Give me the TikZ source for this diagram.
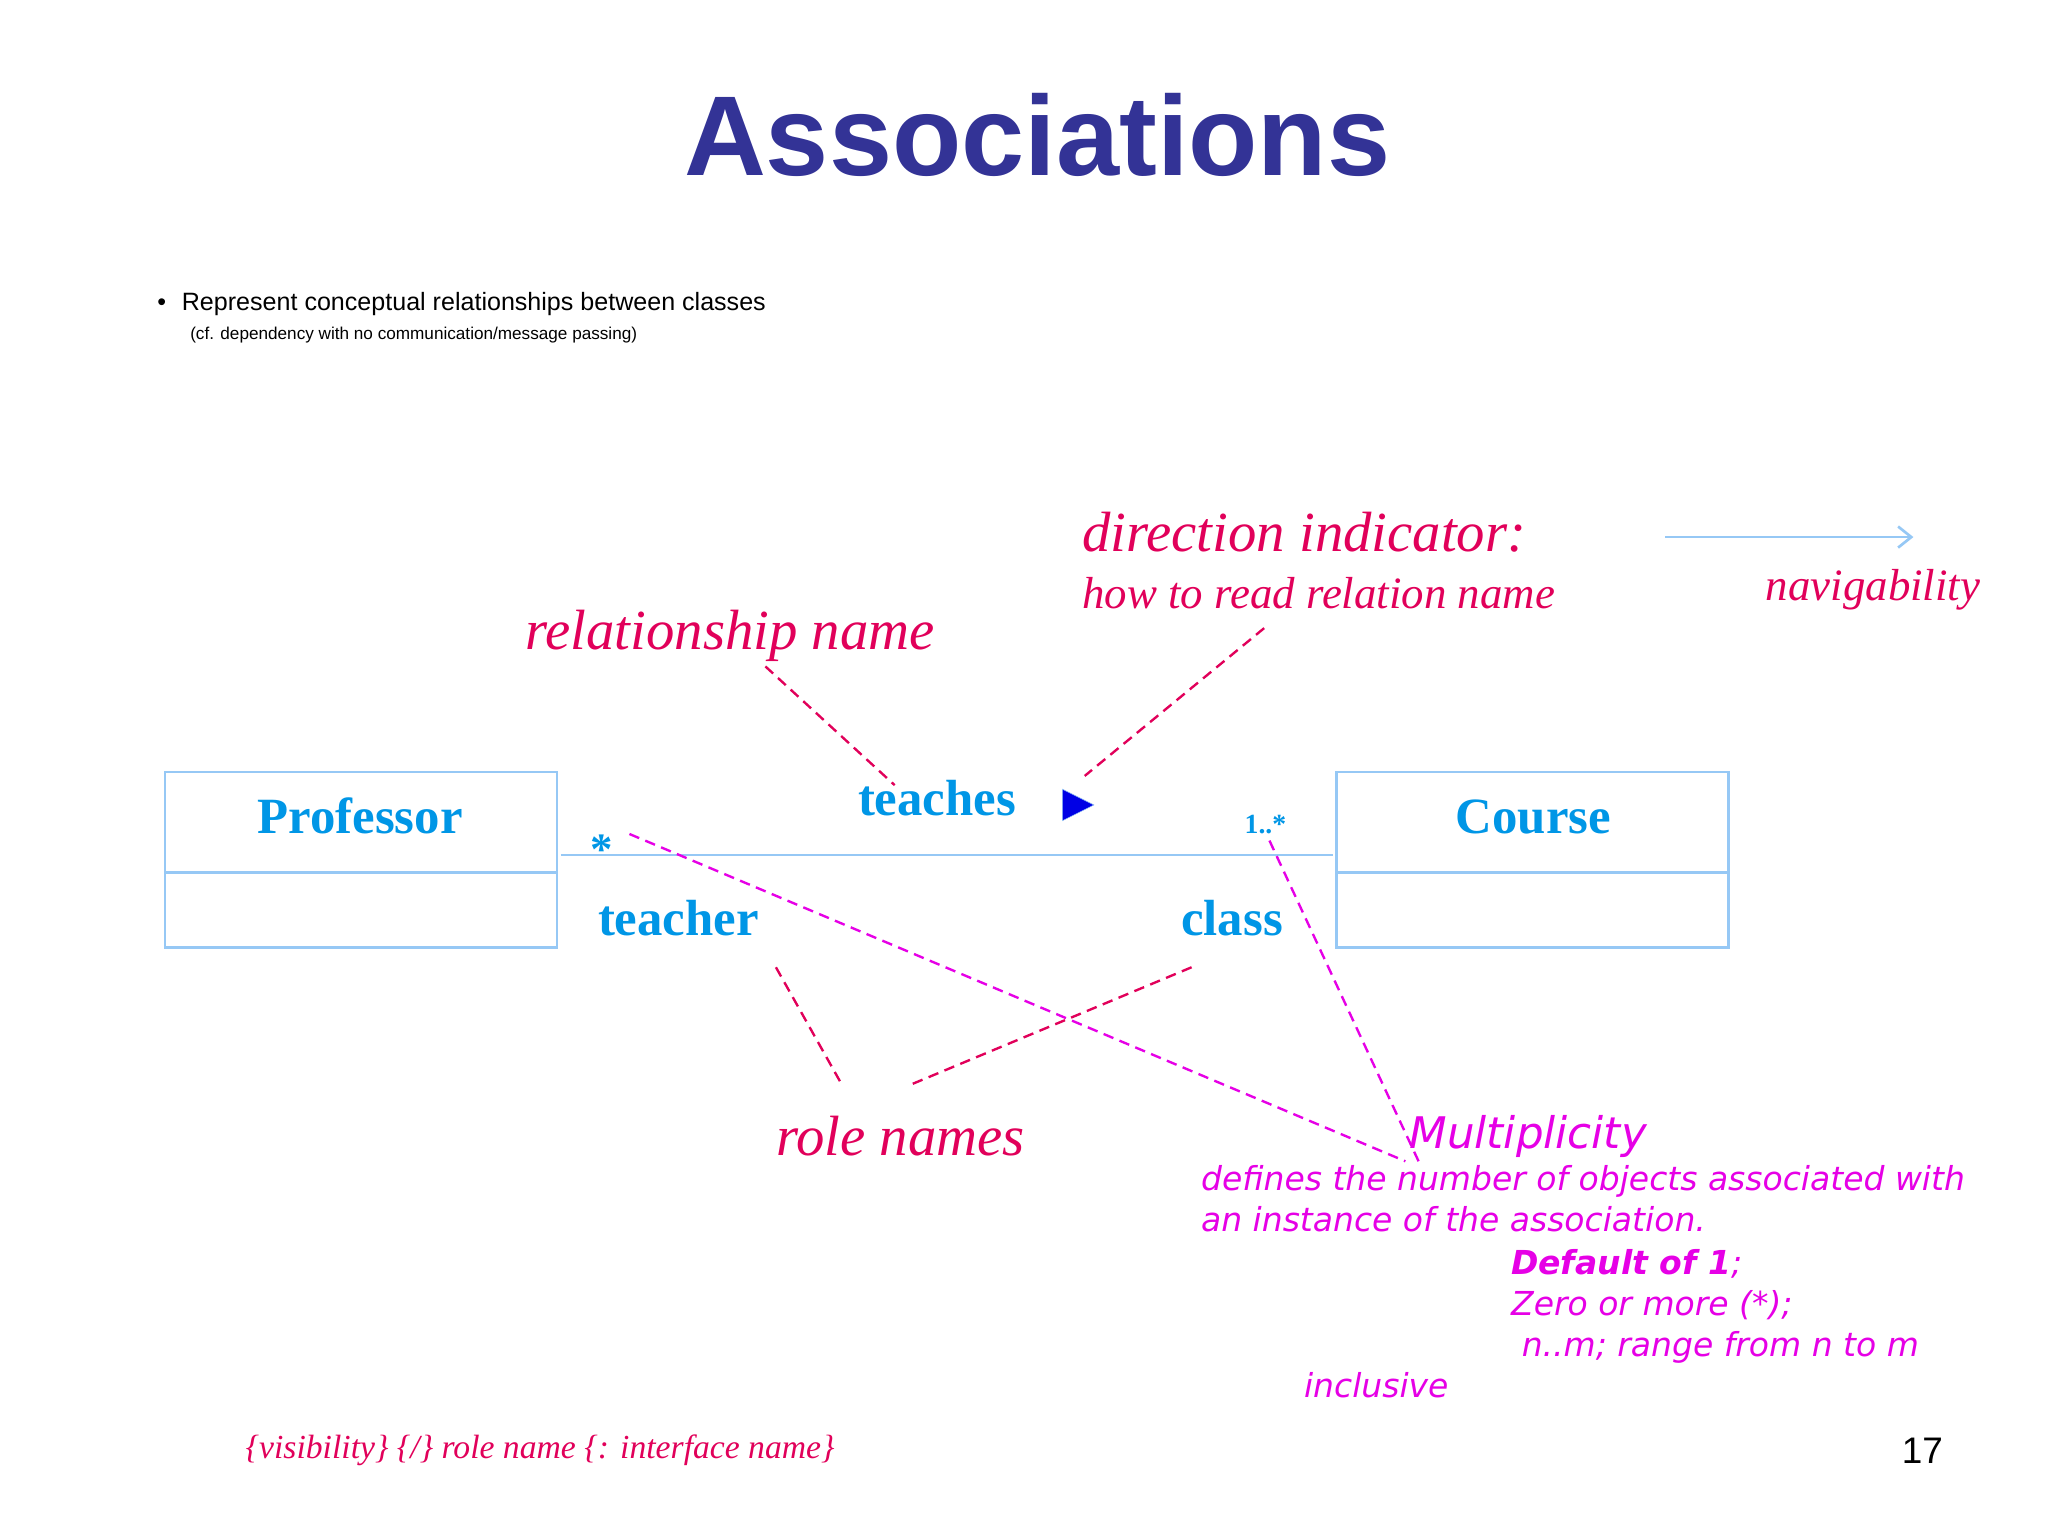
\documentclass[tikz,border=0pt]{standalone}
\usepackage{fontspec}
\setmainfont{Liberation Serif}
\newfontfamily\arial{Liberation Sans}
\newfontfamily\dvs{DejaVu Sans}
\usetikzlibrary{arrows.meta}
\definecolor{ttl}{RGB}{51,51,150}
\definecolor{rd}{RGB}{225,0,90}
\definecolor{mg}{RGB}{230,0,230}
\definecolor{bl}{RGB}{0,150,230}
\definecolor{lb}{RGB}{150,200,245}
\tikzset{
 lbl/.style={anchor=base west,inner sep=0pt},
 rdt/.style={lbl,text=rd,font=\itshape\fontsize{43}{46}\selectfont},
 rds/.style={lbl,text=rd,font=\itshape\fontsize{34}{38}\selectfont},
 mgt/.style={lbl,text=mg,font=\dvs\itshape\fontsize{25}{30}\selectfont},
 blt/.style={lbl,text=bl,font=\bfseries\fontsize{38.5}{42}\selectfont},
 box/.style={draw=lb,line width=2pt},
 rdash/.style={draw=rd,dash pattern=on 8pt off 5pt,line width=1.8pt},
 mdash/.style={draw=mg,dash pattern=on 8pt off 5pt,line width=1.8pt}
}
\begin{document}
\begin{tikzpicture}[x=1pt,y=-1pt]
\useasboundingbox[fill=white] (0,0) rectangle (1552,1164);
\node[anchor=base,text=ttl,font=\arial\bfseries\fontsize{86}{94}\selectfont] (t) at (786,133) {Associations};
\node[lbl,font=\arial\fontsize{19}{22}\selectfont] (b1) at (119,235) {\textbullet\hspace{12pt}Represent conceptual relationships between classes};
\node[lbl,font=\arial\fontsize{13}{16}\selectfont] (b2) at (144,257) {(cf. dependency with no communication/message passing)};
% classes
\draw[box] (125,585) rectangle (422,718);
\draw[box] (125,661) -- (422,661);
\draw[box] (1013,585) rectangle (1310,718);
\draw[box] (1013,661) -- (1310,661);
\node[blt] (prof) at (195,632) {Professor};
\node[blt] (course) at (1103,632) {Course};
\coordinate (l1) at (425,648); \coordinate (l2) at (1010,648);
\draw[draw=lb,line width=2pt] (l1) -- (l2);
\node[blt] (teaches) at (650,618) {teaches};
\node[blt] (teacher) at (453,709) {teacher};
\node[blt] (class) at (895,709) {class};
\node[lbl,text=bl,font=\bfseries\fontsize{34}{38}\selectfont] (star) at (447,655) {*};
\node[lbl,text=bl,font=\bfseries\fontsize{21}{24}\selectfont] (m1) at (943,632) {1..*};
\fill[blue!90!black,draw=lb] (805,598) -- (829,610) -- (805,622) -- cycle;
\coordinate (n1) at (1262,407); \coordinate (n2) at (1450,407);
\draw[lb,line width=2pt,-{Straight Barb[length=10pt,width=16pt]}] (n1) -- (n2);
% labels
\node[rdt] (di) at (820,418) {direction indicator:};
\node[rds] (dis) at (820,461) {how to read relation name};
\node[rds] (nav) at (1338,455) {navigability};
\node[rdt] (rn) at (398,492) {relationship name};
\node[rdt] (roles) at (588,876) {role names};
\node[lbl,text=rd,font=\itshape\fontsize{25.5}{28}\selectfont] (vis) at (186,1105) {\{visibility\} \{/\} role name \{: interface name\}};
\node[lbl,font=\arial\fontsize{28}{30}\selectfont] (pg) at (1441,1109) {17};
\node[lbl,text=mg,font=\dvs\itshape\fontsize{33}{36}\selectfont] (mult) at (1068,870) {Multiplicity};
\node[mgt] (md1) at (910,902) {defines the number of objects associated with};
\node[mgt] (md2) at (910,933) {an instance of the association.};
\node[mgt] (md3) at (1145,966) {\bfseries Default of 1\mdseries;};
\node[mgt] (md4) at (1145,997) {Zero or more (*);};
\node[mgt] (md5) at (1153,1028) {n..m; range from n to m};
\node[mgt] (md6) at (988,1059) {inclusive};
% dashed leaders
\coordinate (a1) at (580,505); \coordinate (a2) at (678,595);
\draw[rdash] (a1) -- (a2);
\coordinate (d1) at (958,476); \coordinate (d2) at (822,588);
\draw[rdash] (d1) -- (d2);
\coordinate (r1) at (588,733); \coordinate (r2) at (638,822);
\draw[rdash] (r1) -- (r2);
\coordinate (r3) at (903,733); \coordinate (r4) at (690,822);
\draw[rdash] (r3) -- (r4);
\coordinate (s1) at (477,632); \coordinate (s2) at (1065,880);
\draw[mdash] (s1) -- (s2);
\coordinate (q1) at (962,637); \coordinate (q2) at (1075,880);
\draw[mdash] (q1) -- (q2);
\end{tikzpicture}
\end{document}
